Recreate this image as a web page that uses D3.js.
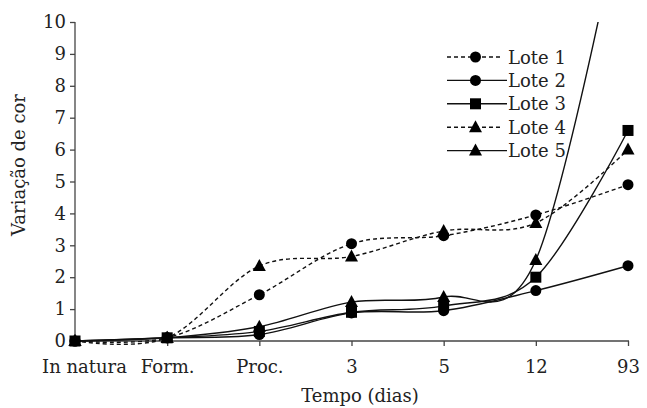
<!DOCTYPE html>
<html>
<head>
<meta charset="utf-8">
<title>Variação de cor</title>
<script src="https://cdn.jsdelivr.net/npm/d3@7"></script>
<style>
  body { margin: 0; background: #fff; }
  text { font-family: "DejaVu Serif", serif; fill: #222; }
</style>
</head>
<body>
<div id="chart"></div>
<script>
var categories = ["In natura", "Form.", "Proc.", "3", "5", "12", "93"];
var yTicks = [0, 1, 2, 3, 4, 5, 6, 7, 8, 9, 10];
var lote1 = [0, 0.1, 1.45, 3.05, 3.3, 3.95, 4.9];
var lote2 = [0, 0.1, 0.2, 0.88, 0.95, 1.58, 2.36];
var lote3 = [0, 0.1, 0.3, 0.9, 1.1, 2.0, 6.6];
var lote4 = [0, 0.1, 2.35, 2.65, 3.45, 3.7, 6.0];
var lote5 = [0, 0.1, 0.45, 1.22, 1.38, 2.54, 14.5];
var seriesNames = ["Lote 1", "Lote 2", "Lote 3", "Lote 4", "Lote 5"];

var series = [
  { name: seriesNames[0], values: lote1, dashed: true,  marker: "circle" },
  { name: seriesNames[1], values: lote2, dashed: false, marker: "circle" },
  { name: seriesNames[2], values: lote3, dashed: false, marker: "square" },
  { name: seriesNames[3], values: lote4, dashed: true,  marker: "triangle" },
  { name: seriesNames[4], values: lote5, dashed: false, marker: "triangle" }
];

var width = 647, height = 408;
// plot area edges (note: "top" is reserved on window, so use a prefix)
var plotLeft = 75, plotRight = 628, plotTop = 22, plotBottom = 341;

var svg = d3.select("#chart").append("svg")
  .attr("width", width)
  .attr("height", height);

var x = d3.scalePoint().domain(categories).range([plotLeft, plotRight]);
var y = d3.scaleLinear().domain([0, 10]).range([plotBottom, plotTop]);

svg.append("clipPath").attr("id", "plot")
  .append("rect").attr("x", 0).attr("y", plotTop).attr("width", width).attr("height", height - plotTop);

// axes
var yAxis = svg.append("g")
  .attr("transform", "translate(" + plotLeft + ",0)")
  .call(d3.axisLeft(y).tickValues(yTicks).tickSize(5).tickPadding(4).tickFormat(d3.format("d")));
var xAxis = svg.append("g")
  .attr("transform", "translate(0," + plotBottom + ")")
  .call(d3.axisBottom(x).tickSize(5).tickPadding(14));

[xAxis, yAxis].forEach(function(g) {
  g.select(".domain").attr("stroke", "#444").attr("stroke-width", 1.3);
  g.selectAll(".tick line").attr("stroke", "#444").attr("stroke-width", 1.3);
  g.selectAll(".tick text").style("font-family", "DejaVu Serif").style("font-size", "18px").attr("fill", "#222");
});
xAxis.select(".domain").attr("d", "M" + plotLeft + ",0H" + (plotRight + 1));
yAxis.select(".domain").attr("d", "M0," + plotBottom + "V" + plotTop);
// first label sits a little right of its tick in the original
xAxis.selectAll(".tick text").filter(function(d) { return d === "In natura"; }).attr("dx", 9);

svg.append("text")
  .attr("x", 360).attr("y", 402)
  .attr("text-anchor", "middle")
  .style("font-size", "18px")
  .text("Tempo (dias)");

svg.append("text")
  .attr("transform", "translate(25,165) rotate(-90)")
  .attr("text-anchor", "middle")
  .style("font-size", "18px")
  .text("Variação de cor");

// lines
var line = d3.line()
  .x(function(d, i) { return x(categories[i]); })
  .y(function(d) { return y(d); })
  .curve(d3.curveCatmullRom.alpha(0));

var plot = svg.append("g").attr("clip-path", "url(#plot)");
series.forEach(function(s) {
  plot.append("path")
    .attr("d", line(s.values))
    .attr("fill", "none")
    .attr("stroke", "#111")
    .attr("stroke-width", 1.4)
    .attr("stroke-dasharray", s.dashed ? "4,3" : null);
});

function drawMarker(g, type, cx, cy) {
  if (type === "circle") {
    g.append("circle").attr("cx", cx).attr("cy", cy).attr("r", 5.5).attr("fill", "#000");
  } else if (type === "square") {
    g.append("rect").attr("x", cx - 5.5).attr("y", cy - 5.5).attr("width", 11).attr("height", 11).attr("fill", "#000");
  } else {
    g.append("path").attr("d", "M" + cx + "," + (cy - 7) + "L" + (cx + 6.5) + "," + (cy + 5) + "L" + (cx - 6.5) + "," + (cy + 5) + "Z").attr("fill", "#000");
  }
}

var markers = plot.append("g");
series.forEach(function(s) {
  s.values.forEach(function(v, i) {
    drawMarker(markers, s.marker, x(categories[i]), y(v));
  });
});

// legend
var legend = svg.append("g");
series.forEach(function(s, i) {
  var ly = 57 + i * 23.4;
  legend.append("line")
    .attr("x1", 447).attr("x2", s.dashed ? 501 : 507)
    .attr("y1", ly).attr("y2", ly)
    .attr("stroke", "#111").attr("stroke-width", 1.4)
    .attr("stroke-dasharray", s.dashed ? "4,3" : null);
  drawMarker(legend, s.marker, 475.5, ly);
  legend.append("text")
    .attr("x", 508).attr("y", ly + 6.5)
    .style("font-size", "18px")
    .text(s.name);
});
</script>
</body>
</html>
